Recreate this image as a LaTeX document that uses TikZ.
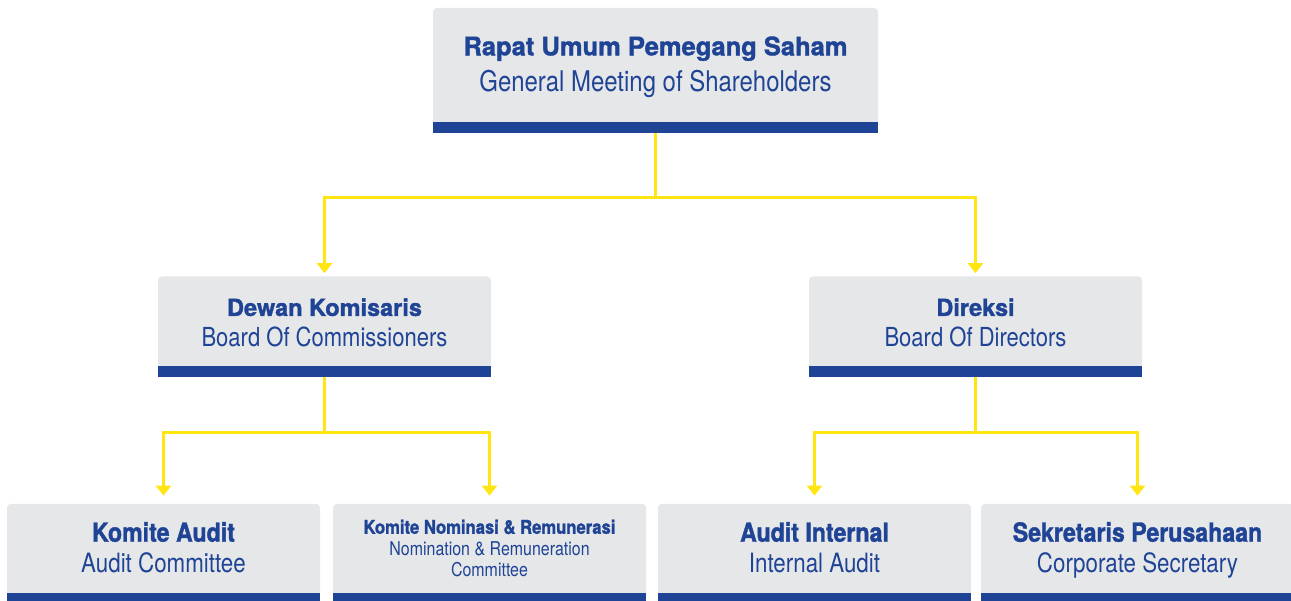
\documentclass[tikz,border=0pt]{standalone}
\usepackage{fontspec}
\setmainfont{TeX Gyre Heros}
\newfontfamily\narrowfont[FakeStretch=0.84]{TeX Gyre Heros}
\newfontfamily\heavyfont[FakeBold=1.4]{TeX Gyre Heros}
\newfontfamily\condfont[FakeStretch=0.88,FakeBold=1.4]{TeX Gyre Heros}
\usetikzlibrary{positioning,arrows.meta}
\definecolor{boxgray}{HTML}{E6E7E9}
\definecolor{barblue}{HTML}{1F4496}
\definecolor{linkyellow}{HTML}{FFE512}
\begin{document}
\begin{tikzpicture}[x=1pt,y=1pt,
  box/.style={fill=boxgray, rounded corners=4pt, inner sep=0pt, align=center, text=barblue},
  bar/.style={fill=barblue, inner sep=0pt, outer sep=0pt, minimum height=11pt},
  link/.style={draw=linkyellow, line width=3pt, -{Triangle[width=15pt,length=10pt]}}]
  \useasboundingbox (0,0) rectangle (1291,-601);
  % top
  \node (rups) [box, minimum width=445pt, minimum height=118pt, font=\fontsize{26}{36}\selectfont] at (655.5,-67)
    {{\heavyfont\bfseries\fontsize{25.5}{36}\selectfont Rapat Umum Pemegang Saham}\\
     {\narrowfont\fontsize{28.5}{36}\selectfont General Meeting of Shareholders}};
  \node (rupsbar) [bar, minimum width=445pt, below=-4pt of rups] {};
  % middle
  \node (dk) [box, minimum width=333pt, minimum height=93pt, below=143pt of rupsbar, xshift=-331pt, font=\fontsize{24}{31}\selectfont]
    {{\heavyfont\bfseries\fontsize{23.5}{31}\selectfont Dewan Komisaris}\\
     {\narrowfont\fontsize{26.2}{31}\selectfont Board Of Commissioners}};
  \node (dkbar) [bar, minimum width=333pt, below=-4pt of dk] {};
  \node (dir) [box, minimum width=333pt, minimum height=93pt, below=143pt of rupsbar, xshift=320pt, font=\fontsize{24}{31}\selectfont]
    {{\heavyfont\bfseries\fontsize{23.5}{31}\selectfont Direksi}\\
     {\narrowfont\fontsize{26.2}{31}\selectfont Board Of Directors}};
  \node (dirbar) [bar, minimum width=333pt, below=-4pt of dir] {};
  % bottom
  \node (ka) [box, minimum width=313pt, minimum height=93pt, below=127pt of dkbar, xshift=-161pt, font=\fontsize{24}{31}\selectfont]
    {{\condfont\bfseries\fontsize{26.3}{31}\selectfont Komite Audit}\\
     {\narrowfont\fontsize{26.6}{31}\selectfont Audit Committee\vphantom{g}}};
  \node (kabar) [bar, minimum width=313pt, below=-4pt of ka] {};
  \node (knr) [box, minimum width=313pt, minimum height=93pt, below=127pt of dkbar, xshift=165pt, font=\fontsize{18}{21.5}\selectfont]
    {{\condfont\bfseries\fontsize{18.9}{21.5}\selectfont Komite Nominasi \& Remunerasi}\\
     {\narrowfont\fontsize{19}{21.5}\selectfont Nomination \& Remuneration}\\
     {\narrowfont\fontsize{19}{21.5}\selectfont Committee\vphantom{g}}};
  \node (knrbar) [bar, minimum width=313pt, below=-4pt of knr] {};
  \node (ai) [box, minimum width=313pt, minimum height=93pt, below=127pt of dirbar, xshift=-161pt, font=\fontsize{24}{31}\selectfont]
    {{\condfont\bfseries\fontsize{26.3}{31}\selectfont Audit Internal}\\
     {\narrowfont\fontsize{26.6}{31}\selectfont Internal Audit\vphantom{g}}};
  \node (aibar) [bar, minimum width=313pt, below=-4pt of ai] {};
  \node (sp) [box, minimum width=313pt, minimum height=93pt, below=127pt of dirbar, xshift=162pt, font=\fontsize{24}{31}\selectfont]
    {{\condfont\bfseries\fontsize{26.3}{31}\selectfont Sekretaris Perusahaan}\\
     {\narrowfont\fontsize{26.6}{31}\selectfont Corporate Secretary\vphantom{g}}};
  \node (spbar) [bar, minimum width=313pt, below=-4pt of sp] {};
  % connectors
  \draw[link, shorten >=3pt] (rupsbar.south) -- ++(0,-64) -| (dk.north);
  \draw[link, shorten >=3pt] (rupsbar.south) -- ++(0,-64) -| (dir.north);
  \draw[link, shorten >=8pt] (dkbar.south) -- ++(0,-56) -| (ka.north);
  \draw[link, shorten >=8pt] (dkbar.south) -- ++(0,-56) -| (knr.north);
  \draw[link, shorten >=8pt] (dirbar.south) -- ++(0,-56) -| (ai.north);
  \draw[link, shorten >=8pt] (dirbar.south) -- ++(0,-56) -| (sp.north);
\end{tikzpicture}
\end{document}
